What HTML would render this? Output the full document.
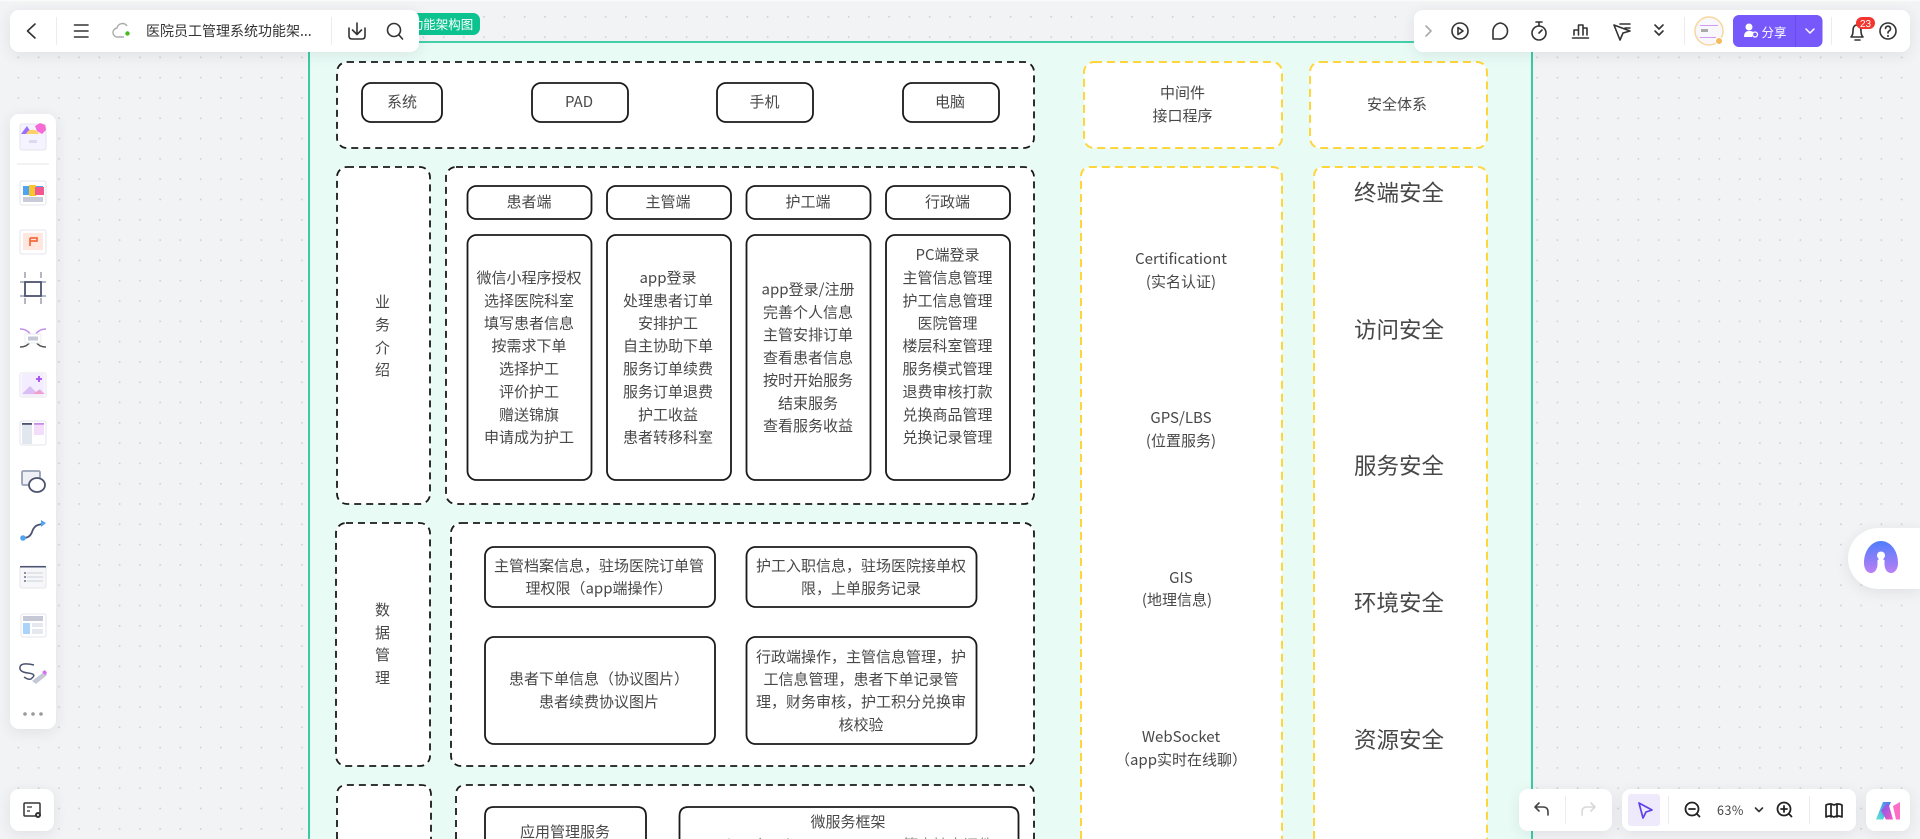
<!DOCTYPE html>
<html lang="zh"><head><meta charset="utf-8"><title>医院员工管理系统功能架构图</title>
<style>
html,body{margin:0;padding:0;width:1920px;height:839px;overflow:hidden;background:#f2f3f5}
svg{position:absolute;left:0;top:0}
text{font-family:"Noto Sans CJK SC","Liberation Sans",sans-serif;fill:#484848;font-size:15px;text-anchor:middle}
.p{position:absolute;background:#fff;border-radius:9px;box-shadow:0 3px 14px rgba(40,40,70,.09)}
</style></head><body>
<svg width="1920" height="839" viewBox="0 0 1920 839">
<defs><pattern id="d" x="17.6" y="16" width="20.25" height="20.3" patternUnits="userSpaceOnUse"><rect x="0" y="0" width="1.6" height="1.6" fill="#cfd0d4"/></pattern></defs>
<rect width="1920" height="839" fill="#f2f3f5"/><rect width="1920" height="839" fill="url(#d)"/>
<rect width="1920" height="1.5" fill="#fafafa"/>
<path d="M309 839V42H1532V839" fill="#e9fbf5" stroke="#0dc190" stroke-width="1.6"/>
<rect x="400" y="13" width="80" height="22" rx="7" fill="#0cc38f"/>
<text x="442" y="29" style="fill:#fff;font-size:12.5px">功能架构图</text>

<g fill="#fff" stroke="#1a1a1a" stroke-width="1.8" stroke-dasharray="7 5">
<rect x="337" y="62" width="697" height="86" rx="10"/>
<rect x="337" y="167" width="93" height="337" rx="10"/>
<rect x="446" y="167" width="588" height="337" rx="10"/>
<rect x="336" y="523" width="94" height="243" rx="10"/>
<rect x="451" y="523" width="583" height="243" rx="10"/>
<path d="M337 839V795Q337 785 347 785H421Q431 785 431 795V839"/>
<path d="M456 839V795Q456 785 466 785H1024Q1034 785 1034 795V839"/>
</g>
<g fill="#fff" stroke="#ffd53c" stroke-width="2" stroke-dasharray="8 5">
<rect x="1084" y="62" width="198" height="86" rx="10"/>
<rect x="1310" y="62" width="177" height="86" rx="10"/>
<path d="M1081 839V177Q1081 167 1091 167H1272Q1282 167 1282 177V839"/>
<path d="M1314 839V177Q1314 167 1324 167H1477Q1487 167 1487 177V839"/>
</g>
<g fill="#fff" stroke="#1a1a1a" stroke-width="1.8">
<rect x="362" y="83" width="80" height="39" rx="9"/>
<rect x="532" y="83" width="96" height="39" rx="9"/>
<rect x="717" y="83" width="96" height="39" rx="9"/>
<rect x="903" y="83" width="96" height="39" rx="9"/>
<rect x="467.500" y="186" width="124" height="33" rx="9"/>
<rect x="607" y="186" width="124" height="33" rx="9"/>
<rect x="746.500" y="186" width="124" height="33" rx="9"/>
<rect x="886" y="186" width="124" height="33" rx="9"/>
<rect x="467.500" y="235" width="124" height="245" rx="9"/>
<rect x="607" y="235" width="124" height="245" rx="9"/>
<rect x="746.500" y="235" width="124" height="245" rx="9"/>
<rect x="886" y="235" width="124" height="245" rx="9"/>
<rect x="485" y="547" width="230" height="60" rx="9"/>
<rect x="746.500" y="547" width="230" height="60" rx="9"/>
<rect x="485" y="637" width="230" height="107" rx="9"/>
<rect x="746.500" y="637" width="230" height="107" rx="9"/>
<path d="M485 839V816Q485 807 494 807H637Q646 807 646 816V839"/>
<path d="M679.500 839V816Q679.500 807 688.500 807H1009.500Q1018.500 807 1018.500 816V839"/>
</g>

<text x="402" y="107">系统</text><text x="579" y="107">PAD</text><text x="764.500" y="107">手机</text><text x="950" y="107">电脑</text>
<text x="529" y="207">患者端</text><text x="668" y="207">主管端</text><text x="808" y="207">护工端</text><text x="947.500" y="207">行政端</text>

<text x="382.500" y="307">业</text><text x="382.500" y="330">务</text><text x="382.500" y="353">介</text><text x="382.500" y="375">绍</text>
<text x="382.500" y="615">数</text><text x="382.500" y="638">据</text><text x="382.500" y="660">管</text><text x="382.500" y="683">理</text>

<g>
<text x="529" y="283">微信小程序授权</text><text x="529" y="306">选择医院科室</text><text x="529" y="328.500">填写患者信息</text><text x="529" y="351">按需求下单</text><text x="529" y="374">选择护工</text><text x="529" y="397">评价护工</text><text x="529" y="420">赠送锦旗</text><text x="529" y="442.500">申请成为护工</text>
<text x="668" y="283">app登录</text><text x="668" y="306">处理患者订单</text><text x="668" y="328.500">安排护工</text><text x="668" y="351">自主协助下单</text><text x="668" y="374">服务订单续费</text><text x="668" y="397">服务订单退费</text><text x="668" y="420">护工收益</text><text x="668" y="442.500">患者转移科室</text>
<text x="808" y="294.500">app登录/注册</text><text x="808" y="317.500">完善个人信息</text><text x="808" y="340">主管安排订单</text><text x="808" y="363">查看患者信息</text><text x="808" y="385.500">按时开始服务</text><text x="808" y="408.500">结束服务</text><text x="808" y="431">查看服务收益</text>
<text x="947.500" y="260">PC端登录</text><text x="947.500" y="283">主管信息管理</text><text x="947.500" y="306">护工信息管理</text><text x="947.500" y="328.500">医院管理</text><text x="947.500" y="351">楼层科室管理</text><text x="947.500" y="374">服务模式管理</text><text x="947.500" y="397">退费审核打款</text><text x="947.500" y="420">兑换商品管理</text><text x="947.500" y="442.500">兑换记录管理</text>
</g>

<text x="599" y="571">主管档案信息，驻场医院订单管</text><text x="599" y="593.500">理权限（app端操作）</text>
<text x="861" y="571">护工入职信息，驻场医院接单权</text><text x="861" y="593.500">限，上单服务记录</text>
<text x="599" y="684">患者下单信息（协议图片）</text><text x="599" y="707">患者续费协议图片</text>
<text x="861" y="662">行政端操作，主管信息管理，护</text><text x="861" y="684.500">工信息管理，患者下单记录管</text><text x="861" y="707">理，财务审核，护工积分兑换审</text><text x="861" y="730">核校验</text>
<text x="565" y="837">应用管理服务</text><text x="848" y="827">微服务框架</text>
<text x="848" y="850" style="fill:#888">SpringCloud Nacos Gateway 等支持中间件</text>

<text x="1182.500" y="98">中间件</text><text x="1182.500" y="121">接口程序</text><text x="1397" y="109.500">安全体系</text>
<text x="1181" y="264">Certificationt</text><text x="1181" y="287">(实名认证)</text>
<text x="1181" y="423">GPS/LBS</text><text x="1181" y="446">(位置服务)</text>
<text x="1181" y="583">GIS</text><text x="1177" y="605">(地理信息)</text>
<text x="1181" y="742">WebSocket</text><text x="1181" y="765">（app实时在线聊）</text>
<text x="1399" y="201" style="font-size:22.500px">终端安全</text><text x="1399" y="338" style="font-size:22.500px">访问安全</text><text x="1399" y="474" style="font-size:22.500px">服务安全</text><text x="1399" y="611" style="font-size:22.500px">环境安全</text><text x="1399" y="748" style="font-size:22.500px">资源安全</text>
</svg>

<div class="p" style="left:10px;top:10px;width:409px;height:42px"></div>
<div class="p" style="left:1414px;top:10px;width:496px;height:42px"></div>
<div class="p" style="left:10px;top:114px;width:46px;height:615px"></div>
<div class="p" style="left:10px;top:789px;width:44px;height:42px"></div>
<div class="p" style="left:1519px;top:789px;width:93px;height:42px"></div>
<div class="p" style="left:1622px;top:789px;width:234px;height:42px"></div>
<div class="p" style="left:1866px;top:789px;width:44px;height:42px"></div>
<div class="p" style="left:1848px;top:528px;width:72px;height:61px;border-radius:31px 0 0 31px"></div>

<svg width="1920" height="839" viewBox="0 0 1920 839">
<defs>
<linearGradient id="ai" x1="0" y1="0" x2="0" y2="1"><stop offset="0" stop-color="#4f7dfb"/><stop offset="1" stop-color="#bb7ff5"/></linearGradient>
<linearGradient id="m1" x1="0" y1="1" x2="1" y2="0"><stop offset="0" stop-color="#5ce8d0"/><stop offset="1" stop-color="#3d7ff5"/></linearGradient>
<linearGradient id="m2" x1="0" y1="0" x2="1" y2="1"><stop offset="0" stop-color="#6a5cf5"/><stop offset="1" stop-color="#fb55c0"/></linearGradient>
</defs>

<!-- top-left bar -->
<g fill="none" stroke="#333" stroke-width="1.6" stroke-linecap="round" stroke-linejoin="round">
<path d="M35 24l-7.500 7 7.500 7"/>
<path d="M74.500 25h13.500M74.500 31h13.500M74.500 37h13.500"/>
<path d="M349 28v8q0 3 3 3h10q3 0 3-3v-8M357 23v11M352.500 30l4.500 4.500 4.500-4.500"/>
<circle cx="394" cy="30" r="6.500"/><path d="M399 35l3.500 4"/>
</g>
<path d="M56.500 17v28M331.500 17v28" stroke="#ececf0"/>
<path d="M124 37h-6a4.500 4.500 0 0 1-1-9 5.500 5.500 0 0 1 10-2" fill="none" stroke="#aaa" stroke-width="1.400"/>
<circle cx="127.500" cy="33.500" r="2.200" fill="#46b91c"/>
<text x="146" y="36" style="text-anchor:start;font-size:14px;fill:#333">医院员工管理系统功能架...</text>

<!-- top-right bar -->
<g fill="none" stroke="#333" stroke-width="1.600" stroke-linecap="round" stroke-linejoin="round">
<path d="M1426 26l5 5-5 5" stroke="#aaa"/>
<circle cx="1460" cy="31" r="8"/><path d="M1458 27.500l5 3.500-5 3.500z"/>
<path d="M1500 23a8 8 0 1 1-1 16h-6v-7a8.500 8.500 0 0 1 7-9z"/>
<circle cx="1539" cy="33" r="7"/><path d="M1536 22h6M1539 22v4M1539 33l3-3"/>
<path d="M1572.500 38h16M1574 35v-5h4.500v5M1578.500 35v-10h4.500v10M1583 35v-7h4v7"/>
<path d="M1614 25l16 6-7 2-3 7zM1620 24h10M1625 28h5"/>
<path d="M1655 25l4 4 4-4M1655 31l4 4 4-4"/>
<circle cx="1888" cy="31" r="8"/><path d="M1885.500 28.500a2.500 2.500 0 1 1 3.500 2.500q-1 .5-1 2"/>
<path d="M1851 37q2-2 2-6 0-6 4-6t4 6q0 4 2 6zM1855 40h5"/>
</g>
<circle cx="1888" cy="36" r="1" fill="#333"/>
<path d="M1684.500 17v28M1831.500 17v28" stroke="#ececf0"/>
<circle cx="1709" cy="31" r="14" fill="#f8f7fb" stroke="#f8d79d" stroke-width="1.500"/>
<rect x="1700" y="25" width="18" height="1" fill="#d49af2"/><rect x="1701" y="29" width="7" height="3" fill="#aaa"/><rect x="1700" y="37" width="16" height="1" fill="#d49af2"/>
<circle cx="1719" cy="41" r="3.500" fill="#f5ba5c" stroke="#fff"/>
<rect x="1733" y="15" width="89.500" height="32" rx="6" fill="#7658fb"/>
<path d="M1795.500 15v32" stroke="#6a4be8"/>
<circle cx="1749" cy="27" r="3.500" fill="#fff"/><path d="M1744 37q0-6 5-6t4 2l-1 4z" fill="#fff"/><circle cx="1755" cy="34.500" r="2.500" fill="none" stroke="#fff" stroke-width="1.300"/>
<text x="1774" y="37" style="fill:#fff;font-size:12.500px">分享</text>
<path d="M1806 29l4 4 4-4" fill="none" stroke="#fff" stroke-width="1.500" stroke-linecap="round" stroke-linejoin="round"/>
<rect x="1856" y="17" width="19" height="12" rx="6" fill="#f2352e"/>
<text x="1865.500" y="27" style="fill:#fff;font-size:10px;font-family:'Liberation Sans',sans-serif">23</text>

<!-- left toolbar -->
<path d="M17 164h32" stroke="#eee" stroke-width="1.500"/>
<g>
<g stroke="#e4e4ec" fill="#fff"><rect x="20" y="124" width="26" height="26" rx="2" fill="#f5f3ff"/><rect x="20" y="181" width="26" height="24" rx="2"/><rect x="20" y="230" width="26" height="24" rx="2"/><rect x="20" y="373" width="26" height="24" rx="2"/><rect x="20" y="421" width="26" height="24" rx="2"/><rect x="20" y="566" width="26" height="22" rx="2" fill="#f7f7fa"/><rect x="21" y="614" width="25" height="23" rx="2"/></g>
<path d="M21 134l6-8 5 8z" fill="#9b6dff"/><path d="M26 134a7 7 0 0 1 13 0z" fill="#ffd166"/><path d="M35 126l5-3 5 2 1 5-4 4-5-3z" fill="#f56ad6"/><rect x="29" y="140" width="8" height="3" fill="#dcd9f2"/>
<rect x="23" y="186" width="20" height="9" fill="#4fa3f0"/><rect x="29" y="185" width="7" height="11" fill="#f8c630"/><rect x="35" y="187" width="9" height="8" fill="#f1588f"/><rect x="23" y="197" width="20" height="5" fill="#c8ccd8"/>
<rect x="23" y="233" width="20" height="17" fill="#ffe6de"/><path d="M30 238h7v3h-7M30 238v8" fill="none" stroke="#f56a3c" stroke-width="1.700"/>
<path d="M25 272v6M25 298v6M41 272v6M41 298v6M20 282h5M41 282h5M20 296h5M41 296h5" stroke="#9aa0b0" stroke-width="1.500" fill="none"/>
<rect x="25" y="282" width="16" height="14" fill="none" stroke="#4c5370" stroke-width="1.800"/>
<path d="M20 329q7 0 10 5M46 329q-7 0-10 5" fill="none" stroke="#c38be8" stroke-width="1.500"/><path d="M20 347q7 0 10-5M46 347q-7 0-10-5" fill="none" stroke="#555" stroke-width="1.500"/><rect x="25" y="334" width="16" height="9" fill="#fff" stroke="#eee"/><rect x="28" y="336.500" width="10" height="4" fill="#c5c8d6"/>
<rect x="21.500" y="374" width="23" height="22" fill="#f4edff" rx="2"/><path d="M22 394l8-8 6 6 4-3 5 5z" fill="#d9bdf5"/><path d="M33 394l6-4 5 4z" fill="#f59ccb"/><path d="M39 376v6M36 379h6" stroke="#a34cf0" stroke-width="1.800"/>
<rect x="22" y="424" width="10" height="20" fill="#e2e6ee"/><rect x="22" y="423" width="10" height="1.800" fill="#4c5370"/><rect x="34" y="424" width="10" height="11" fill="#f4dcfb"/><rect x="34" y="423" width="10" height="1.800" fill="#c98be8"/>
<rect x="22" y="471" width="18" height="14" rx="1.500" fill="#eef0f5" stroke="#98a0b5" stroke-width="1.800"/><ellipse cx="37" cy="485" rx="8" ry="7" fill="#fff" stroke="#4c5370" stroke-width="1.800"/>
<path d="M23 538q7 0 9-6t6-7q3-1 6-1" fill="none" stroke="#4c5370" stroke-width="1.800"/><circle cx="23" cy="538" r="2.800" fill="#4fa3f0"/><path d="M41 520l5 3-5 4z" fill="#4fa3f0"/>
<rect x="20" y="566" width="26" height="1.500" fill="#4c5370"/><path d="M27 573h16M27 577h16M27 581h16" stroke="#d6d8e2" stroke-width="1.300"/><path d="M24 573h2M24 577h2M24 581h2" stroke="#4c5370" stroke-width="1.300"/>
<rect x="23" y="616" width="20" height="5" fill="#c5c8d6"/><rect x="23" y="623" width="7" height="11" fill="#a9d3fb"/><rect x="32" y="623" width="11" height="4" fill="#e6e8f0"/><rect x="32" y="629" width="11" height="5" fill="#e6e8f0"/>
<path d="M34 665q-13-3-14 2t8 6 4 5q-2 3-8-1" fill="none" stroke="#4c5370" stroke-width="1.500"/><path d="M32 681l12-9 3 3-11 9z" fill="#c5c8d6"/><path d="M42 672l3-2 2 3-2 2z" fill="#d96cf0"/>
<circle cx="25" cy="714" r="1.800" fill="#9a9a9a"/><circle cx="33" cy="714" r="1.800" fill="#9a9a9a"/><circle cx="41" cy="714" r="1.800" fill="#9a9a9a"/>
<rect x="24" y="803" width="16" height="13" rx="1" fill="none" stroke="#333" stroke-width="1.500"/><path d="M27 807h5M27 811h3" stroke="#333" stroke-width="1.300"/><circle cx="38" cy="815" r="3" fill="#333"/><circle cx="38" cy="815" r="1" fill="#fff"/>
</g>

<!-- AI -->
<path d="M1864 563C1864 550 1872 541 1881 541S1898 550 1898 563C1898 569 1895 573 1891 573S1884.500 569 1884.500 564V560H1877.500V564C1877.500 569 1875 573 1871 573S1864 569 1864 563Z" fill="url(#ai)"/>
<circle cx="1881" cy="555.500" r="4" fill="#fff"/>
<rect x="1878.500" y="556" width="5" height="5" fill="#fff"/>

<!-- bottom right -->
<g fill="none" stroke="#444" stroke-width="1.600" stroke-linecap="round" stroke-linejoin="round">
<path d="M1548 815v-3q0-5-5-5h-8M1539 803l-4 4 4 4"/>
<path d="M1582 815v-3q0-5 5-5h8M1591 803l4 4-4 4" stroke="#d8d8d8"/>
<circle cx="1692" cy="809" r="6.500" stroke="#222" stroke-width="1.800"/><path d="M1689 809h6M1697 814l2.500 2.500" stroke="#222" stroke-width="1.800"/>
<circle cx="1784" cy="809" r="6.500" stroke="#222" stroke-width="1.800"/><path d="M1781 809h6M1784 806v6M1789 814l2.500 2.500" stroke="#222" stroke-width="1.800"/>
<path d="M1755.500 808l3.500 3.500 3.500-3.500" stroke="#333"/>
<path d="M1826 805q4-2 8 0q4-2 8 0v12q-4-2-8 0q-4-2-8 0zM1831 804v13M1837 804v13" stroke="#222" stroke-width="1.700"/>
</g>
<path d="M1565.500 796v28M1668.500 796v28M1809.500 796v28" stroke="#ececf0"/>
<rect x="1628" y="794" width="32" height="32" rx="3" fill="#eeeafc"/>
<path d="M1639 803l13 7-6 2-3 6z" fill="none" stroke="#5b41e8" stroke-width="1.700" stroke-linejoin="round"/>
<text x="1730.500" y="815" style="font-size:12.500px;fill:#444;letter-spacing:.5px">63%</text>
<path d="M1876 819.500l7-17.500h8l-8 17.500z" fill="url(#m1)"/><path d="M1888 802l5 17.500h-7l-5-9z" fill="url(#m2)"/><path d="M1893 806l7-4v17.500h-4z" fill="#fb6ec3"/>
</svg>
</body></html>
